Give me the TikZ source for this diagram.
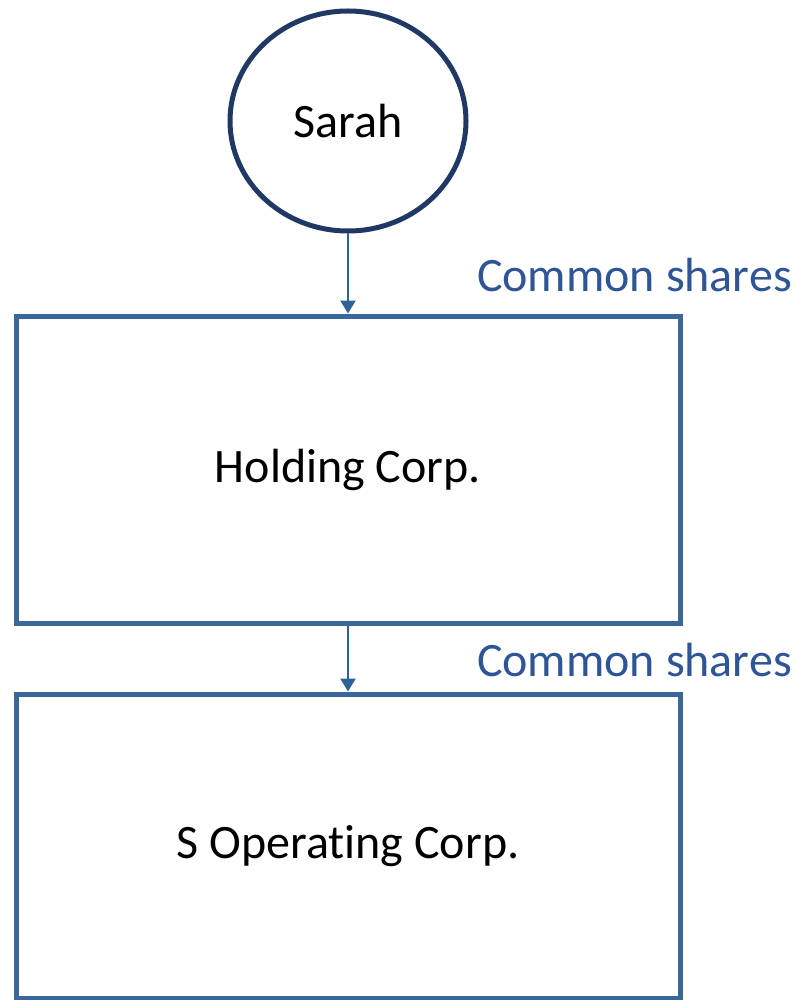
\documentclass[tikz,border=0pt]{standalone}
\usepackage{fontspec}
\setmainfont{Carlito}[Ligatures=NoCommon]
\usetikzlibrary{shapes.geometric,arrows.meta}
\definecolor{navy}{HTML}{1F3864}
\definecolor{boxblue}{HTML}{3A679B}
\definecolor{labelblue}{HTML}{2F5597}
\definecolor{arrowblue}{HTML}{2E6299}
\tikzset{
  person/.style={ellipse, draw=navy, line width=5pt, minimum width=236pt, minimum height=220pt, inner sep=0pt, font=\fontsize{48}{52}\selectfont},
  corp/.style={rectangle, draw=boxblue, line width=5pt, minimum width=664pt, inner sep=0pt, font=\fontsize{48}{52}\selectfont},
  owns/.style={arrowblue, line width=2.5pt, -{Triangle[width=15pt,length=13pt]}},
  sharelabel/.style={labelblue, anchor=base east, inner sep=0pt, font=\fontsize{48}{52}\selectfont}
}
\begin{document}
\begin{tikzpicture}[x=1pt,y=-1pt]
  \useasboundingbox[fill=white] (0,0) rectangle (798,1000);
  \node[person] (sarah) at (348,121) {Sarah};
  \node[corp, minimum height=307pt] (hold) at (348,469.5) {Holding Corp.};
  \node[corp, minimum height=304pt] (oper) at (348,846) {S Operating Corp.};
  \draw[owns] (sarah.south) -- (hold.north);
  \draw[owns] (hold.south) -- (oper.north);
  \node[sharelabel] (l1) at (792,291) {Common shares};
  \node[sharelabel] (l2) at (792,676) {Common shares};
\end{tikzpicture}
\end{document}
